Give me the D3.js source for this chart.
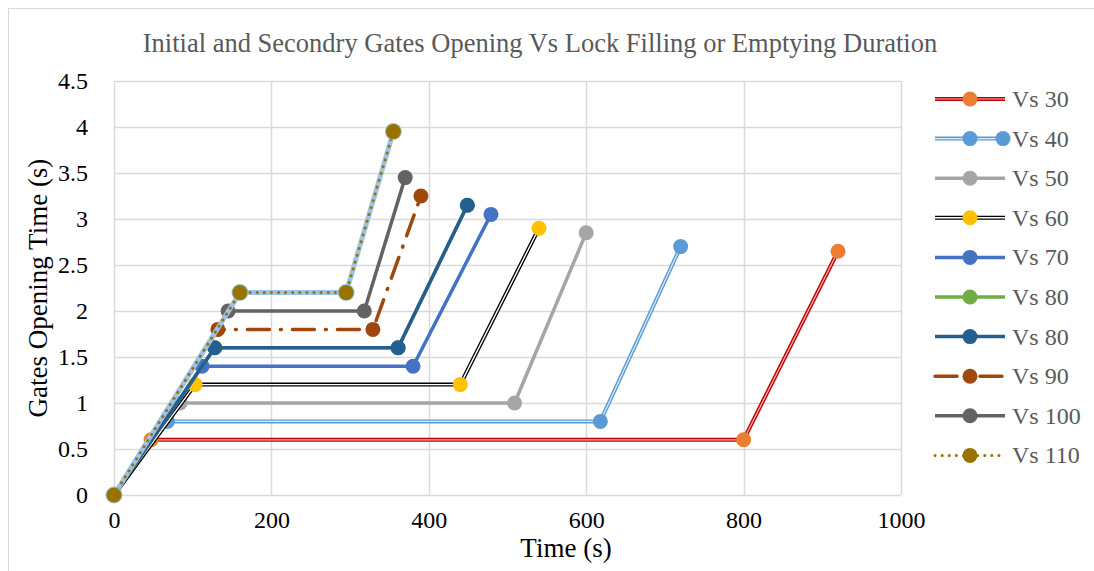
<!DOCTYPE html>
<html>
<head>
<meta charset="utf-8">
<script src="https://cdn.jsdelivr.net/npm/d3@7/dist/d3.min.js"></script>
<style>
  html, body { margin: 0; padding: 0; background: #fff; }
  svg { display: block; }
</style>
</head>
<body>
<svg id="chart" width="1094" height="571"></svg>
<script>
// Gate opening (s) against elapsed time (s) for each lock chamber case
const seriesNames = ["Vs 30", "Vs 40", "Vs 50", "Vs 60", "Vs 70", "Vs 80", "Vs 80", "Vs 90", "Vs 100", "Vs 110"];

const vs30Time  = [0, 47, 800, 920];
const vs30Open  = [0, 0.6, 0.6, 2.65];
const vs40Time  = [0, 68, 618, 720];
const vs40Open  = [0, 0.8, 0.8, 2.7];
const vs50Time  = [0, 84, 509, 600];
const vs50Open  = [0, 1.0, 1.0, 2.85];
const vs60Time  = [0, 103, 440, 540];
const vs60Open  = [0, 1.2, 1.2, 2.9];
const vs70Time  = [0, 112, 380, 479];
const vs70Open  = [0, 1.4, 1.4, 3.05];
const vs80aTime = [0, 128, 361, 449];
const vs80aOpen = [0, 1.6, 1.6, 3.15];
const vs80bTime = [0, 128, 361, 449];
const vs80bOpen = [0, 1.6, 1.6, 3.15];
const vs90Time  = [0, 132, 329, 390];
const vs90Open  = [0, 1.8, 1.8, 3.25];
const vs100Time = [0, 145, 318, 370];
const vs100Open = [0, 2.0, 2.0, 3.45];
const vs110Time = [0, 160, 295, 355];
const vs110Open = [0, 2.2, 2.2, 3.95];

const xTicks = [0, 200, 400, 600, 800, 1000];
const yTicks = [0, 0.5, 1, 1.5, 2, 2.5, 3, 3.5, 4, 4.5];

const times = [vs30Time, vs40Time, vs50Time, vs60Time, vs70Time, vs80aTime, vs80bTime, vs90Time, vs100Time, vs110Time];
const opens = [vs30Open, vs40Open, vs50Open, vs60Open, vs70Open, vs80aOpen, vs80bOpen, vs90Open, vs100Open, vs110Open];

// Line styling per series (Excel-like palette)
const styles = [
  { stroke: "#c00000", width: 4, inner: "#f4b3b3", innerWidth: 1.2, marker: "#ed7d31" },
  { stroke: "#5b9bd5", width: 4, inner: "#ddebf7", innerWidth: 1.2, marker: "#5b9bd5" },
  { stroke: "#a5a5a5", width: 3.5, marker: "#a5a5a5" },
  { stroke: "#000000", width: 4, inner: "#ffffff", innerWidth: 1.4, marker: "#ffc000" },
  { stroke: "#4472c4", width: 3.5, marker: "#4472c4" },
  { stroke: "#70ad47", width: 3.5, marker: "#70ad47" },
  { stroke: "#255e91", width: 3.5, marker: "#255e91" },
  { stroke: "#9e480e", width: 3.5, dash: "22,11,1,11", cap: "round", marker: "#9e480e" },
  { stroke: "#636363", width: 3.5, marker: "#636363" },
  { stroke: "#997300", width: 3, dash: "0.1,7", cap: "round", halo: "#9dc3e6", marker: "#997300" }
];

const svg = d3.select("#chart");
const W = 1094, H = 571;

// outer chart frame
svg.append("rect")
  .attr("x", 8.5).attr("y", 8.5)
  .attr("width", W + 10).attr("height", H + 10)
  .attr("fill", "#fff").attr("stroke", "#d9d9d9").attr("stroke-width", 1);

const plot = { left: 114, right: 901, top: 81, bottom: 495 };

const x = d3.scaleLinear().domain([0, 1000]).range([plot.left, plot.right]);
const y = d3.scaleLinear().domain([0, 4.5]).range([plot.bottom, plot.top]);

// gridlines
const grid = svg.append("g");
grid.selectAll("line.v").data(xTicks).join("line")
  .attr("x1", d => Math.round(x(d)) + 0.5).attr("x2", d => Math.round(x(d)) + 0.5)
  .attr("y1", plot.top).attr("y2", plot.bottom)
  .attr("stroke", "#d9d9d9").attr("stroke-width", 1.5);
grid.selectAll("line.h").data(yTicks).join("line")
  .attr("y1", d => Math.round(y(d)) + 0.5).attr("y2", d => Math.round(y(d)) + 0.5)
  .attr("x1", plot.left).attr("x2", plot.right)
  .attr("stroke", "#d9d9d9").attr("stroke-width", 1.5);

// axes (labels only, no domain lines)
const fontFam = "'Liberation Serif', 'Times New Roman', serif";
const xAxis = svg.append("g")
  .attr("transform", `translate(0,${plot.bottom})`)
  .call(d3.axisBottom(x).tickValues(xTicks).tickSize(0).tickPadding(16).tickFormat(d3.format("d")));
xAxis.select(".domain").remove();
xAxis.selectAll("text").attr("font-family", fontFam).attr("font-size", 24).attr("fill", "#000");

const yAxis = svg.append("g")
  .attr("transform", `translate(${plot.left},0)`)
  .call(d3.axisLeft(y).tickValues(yTicks).tickSize(0).tickPadding(26).tickFormat(d => String(d)));
yAxis.select(".domain").remove();
yAxis.selectAll("text").attr("font-family", fontFam).attr("font-size", 24).attr("fill", "#000");

// title and axis titles
svg.append("text")
  .attr("x", 540).attr("y", 52)
  .attr("text-anchor", "middle")
  .attr("font-family", fontFam).attr("font-size", 26.5).attr("fill", "#595959")
  .text("Initial and Secondry Gates Opening Vs Lock Filling or Emptying Duration");

svg.append("text")
  .attr("x", 566).attr("y", 557)
  .attr("text-anchor", "middle")
  .attr("font-family", fontFam).attr("font-size", 27).attr("fill", "#000")
  .text("Time (s)");

svg.append("text")
  .attr("transform", `translate(47,${(plot.top + plot.bottom) / 2}) rotate(-90)`)
  .attr("text-anchor", "middle")
  .attr("font-family", fontFam).attr("font-size", 27).attr("fill", "#000")
  .text("Gates Opening Time (s)");

const line = d3.line().x(d => x(d[0])).y(d => y(d[1]));

function drawStroke(g, pts, s) {
  if (s.halo) {
    g.append("path").attr("d", line(pts)).attr("fill", "none")
      .attr("stroke", s.halo).attr("stroke-width", 5).attr("stroke-linejoin", "round");
  }
  const p = g.append("path").attr("d", line(pts)).attr("fill", "none")
    .attr("stroke", s.stroke).attr("stroke-width", s.width).attr("stroke-linejoin", "round")
    .attr("stroke-linecap", s.cap || "butt");
  if (s.dash) p.attr("stroke-dasharray", s.dash);
  if (s.inner) {
    g.append("path").attr("d", line(pts)).attr("fill", "none")
      .attr("stroke", s.inner).attr("stroke-width", s.innerWidth).attr("stroke-linejoin", "round");
  }
}

function drawMarker(g, cx, cy, s) {
  if (s.halo) {
    g.append("circle").attr("cx", cx).attr("cy", cy).attr("r", 8.5).attr("fill", s.halo);
  }
  g.append("circle").attr("cx", cx).attr("cy", cy).attr("r", 7.5).attr("fill", s.marker);
}

const seriesLayer = svg.append("g");
seriesNames.forEach((name, i) => {
  const pts = times[i].map((t, k) => [t, opens[i][k]]);
  const g = seriesLayer.append("g");
  drawStroke(g, pts, styles[i]);
  pts.forEach(p => drawMarker(g, x(p[0]), y(p[1]), styles[i]));
});

// legend
const legend = svg.append("g");
seriesNames.forEach((name, i) => {
  const ly = 99 + i * 39.6;
  const g = legend.append("g");
  const s = styles[i];
  const seg = [[935, ly], [1005, ly]];
  const lp = d3.line();
  const p = g.append("path").attr("d", lp(seg)).attr("fill", "none")
    .attr("stroke", s.stroke).attr("stroke-width", s.width).attr("stroke-linecap", s.cap || "butt");
  if (s.dash) p.attr("stroke-dasharray", s.dash);
  if (s.inner) {
    g.append("path").attr("d", lp(seg)).attr("fill", "none")
      .attr("stroke", s.inner).attr("stroke-width", s.innerWidth);
  }
  g.append("circle").attr("cx", 970).attr("cy", ly).attr("r", 7.5).attr("fill", s.marker);
  if (i === 1) {
    g.append("circle").attr("cx", 1003).attr("cy", ly).attr("r", 7.5).attr("fill", s.marker);
  }
  g.append("text").attr("x", 1012).attr("y", ly + 8)
    .attr("font-family", fontFam).attr("font-size", 24).attr("fill", "#595959")
    .text(name);
});
</script>
</body>
</html>
